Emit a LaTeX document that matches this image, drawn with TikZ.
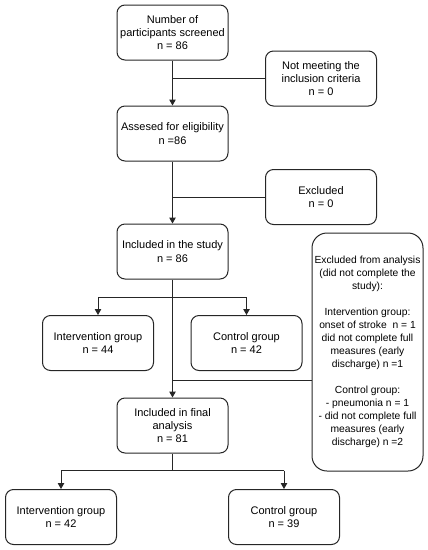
\documentclass[tikz,border=0pt]{standalone}
\usepackage{fontspec}
\setmainfont{Liberation Sans}
\usetikzlibrary{arrows.meta,calc}
\begin{document}
\begin{tikzpicture}[x=1pt,y=-1pt,
 box/.style={draw=black!85, line width=1pt, rounded corners=8pt, minimum width=111pt, minimum height=55pt, align=center, font=\fontsize{11}{13.3}\selectfont, inner sep=0pt},
 link/.style={line width=1pt, draw=black!85},
 arr/.style={link, -{Triangle[length=6pt,width=6.5pt]}}]
\useasboundingbox (0,0) rectangle (428,550);
\node[box] (screened) at (172.5,32.5) {Number of\\participants screened\\n = 86};
\node[box] (notmeet) at (321,78.5) {Not meeting the\\inclusion criteria\\n = 0};
\node[box] (assessed) at (172.5,133.5) {Assesed for eligibility\\n =86};
\node[box] (excluded) at (321,197) {Excluded\\n = 0};
\node[box] (included) at (172.5,251.5) {Included in the study\\n = 86};
\node[box, minimum height=238pt, rounded corners=15pt, font=\fontsize{10.3}{13}\selectfont] (exanal) at (367.5,352) {Excluded from analysis\\(did not complete the\\study):\\[13pt]Intervention group:\\onset of stroke~ n = 1\\did not complete full\\measures (early\\discharge) n =1\\[13pt]Control group:\\- pneumonia n = 1\\- did not complete full\\measures (early\\discharge) n =2};
\node[box] (int1) at (98,343) {Intervention group\\n = 44};
\node[box] (con1) at (246.5,343) {Control group\\n = 42};
\node[box] (final) at (172.5,425.5) {Included in final\\analysis\\n = 81};
\node[box] (int2) at (61,517) {Intervention group\\n = 42};
\node[box] (con2) at (284,517) {Control group\\n = 39};
% connectors
\draw[arr] (screened.south) -- (assessed.north);
\draw[link] (notmeet.west) -- (notmeet.west -| screened.south);
\draw[arr] (assessed.south) -- (included.north);
\draw[link] (excluded.west) -- (excluded.west -| assessed.south);
\draw[arr] (included.south) -- (final.north);
\coordinate (exj) at ($(exanal.west)+(0,28)$);
\draw[link] (exj) -- (exj -| included.south);
\path (included.south) ++(0,18) coordinate (b1);
\draw[link] (b1 -| int1.north) -- (b1 -| con1.north);
\draw[arr] (b1 -| int1.north) -- (int1.north);
\draw[arr] (b1 -| con1.north) -- (con1.north);
\path (final.south) ++(0,17) coordinate (b2);
\draw[link] (final.south) -- (b2);
\draw[link] (b2 -| int2.north) -- (b2 -| con2.north);
\draw[arr] (b2 -| int2.north) -- (int2.north);
\draw[arr] (b2 -| con2.north) -- (con2.north);
\end{tikzpicture}
\end{document}
